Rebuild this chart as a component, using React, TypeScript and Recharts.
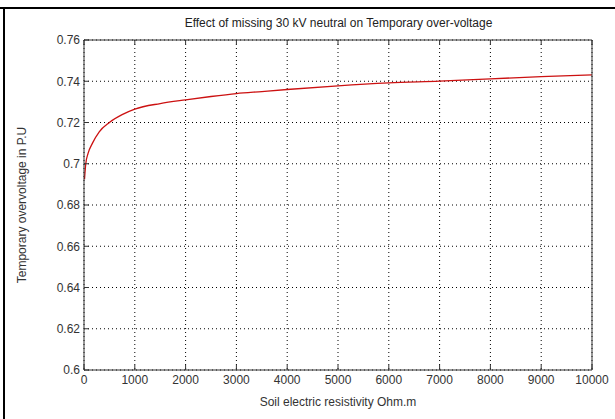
import { LineChart, Line, XAxis, YAxis, CartesianGrid } from "recharts";

// soil resistivity (Ohm.m) and resulting overvoltage (p.u.)
const resistivity = [10, 35, 80, 167, 300, 500, 750, 1000, 1500, 2000, 2500, 3000, 3500, 4000, 5000, 6000, 7000, 8000, 9000, 10000];
const overvoltage = [0.6925, 0.7, 0.705, 0.71, 0.7155, 0.72, 0.7238, 0.7265, 0.7292, 0.731, 0.7326, 0.734, 0.735, 0.736, 0.7378, 0.7392, 0.7401, 0.7412, 0.7422, 0.7431];

const xTicks = [0, 1000, 2000, 3000, 4000, 5000, 6000, 7000, 8000, 9000, 10000];
const yTicks = [0.6, 0.62, 0.64, 0.66, 0.68, 0.7, 0.72, 0.74, 0.76];

const data = resistivity.map((r, i) => ({ r, v: overvoltage[i] }));

const font = "'Liberation Sans', Arial, sans-serif";
const tickStyle = { fontSize: 12, fill: "#333", fontFamily: font };
const fmtY = (v: number) => String(Number(v.toFixed(2)));

export default function App() {
  return (
    <div style={{ position: "absolute", left: 0, top: 0, width: 615, height: 419, background: "#fff", overflow: "hidden" }}>
      <LineChart width={615} height={419} data={data} margin={{ top: 39, right: 22, bottom: 19, left: 44 }}>
        <CartesianGrid stroke="#000" strokeDasharray="1 3" strokeWidth={1} />
        <XAxis
          dataKey="r"
          type="number"
          domain={[0, 10000]}
          ticks={xTicks}
          height={30}
          tickSize={-5}
          tickMargin={10}
          tick={tickStyle}
          stroke="#333"
          label={{ value: "Soil electric resistivity Ohm.m", position: "bottom", offset: -3, style: { fontSize: 12, fill: "#333", fontFamily: font } }}
        />
        <XAxis
          xAxisId="top"
          dataKey="r"
          type="number"
          orientation="top"
          domain={[0, 10000]}
          ticks={xTicks}
          height={1}
          tickSize={-5}
          tickFormatter={() => ""}
          stroke="#333"
        />
        <YAxis
          type="number"
          domain={[0.6, 0.76]}
          ticks={yTicks}
          width={40}
          tickSize={-5}
          tickMargin={9}
          tickFormatter={fmtY}
          tick={tickStyle}
          stroke="#333"
          label={{ value: "Temporary overvoltage in P.U", angle: -90, position: "insideLeft", offset: -22, style: { textAnchor: "middle", fontSize: 12, fill: "#333", fontFamily: font } }}
        />
        <YAxis
          yAxisId="right"
          type="number"
          orientation="right"
          domain={[0.6, 0.76]}
          ticks={yTicks}
          width={1}
          tickSize={-5}
          tickFormatter={() => ""}
          stroke="#333"
        />
        <Line type="monotone" dataKey="v" stroke="#cc1111" strokeWidth={1.3} dot={false} isAnimationActive={false} />
      </LineChart>
      <div style={{ position: "absolute", left: 84, width: 509, top: 16, textAlign: "center", fontFamily: font, fontSize: 12, color: "#222", lineHeight: "14px" }}>
        Effect of missing 30 kV neutral on Temporary over-voltage
      </div>
      <div style={{ position: "absolute", left: 0, top: 7, width: 615, height: 2, background: "#000", zIndex: 1 }} />
      <div style={{ position: "absolute", left: 3, top: 7, width: 2, height: 412, background: "#000", zIndex: 1 }} />
    </div>
  );
}
